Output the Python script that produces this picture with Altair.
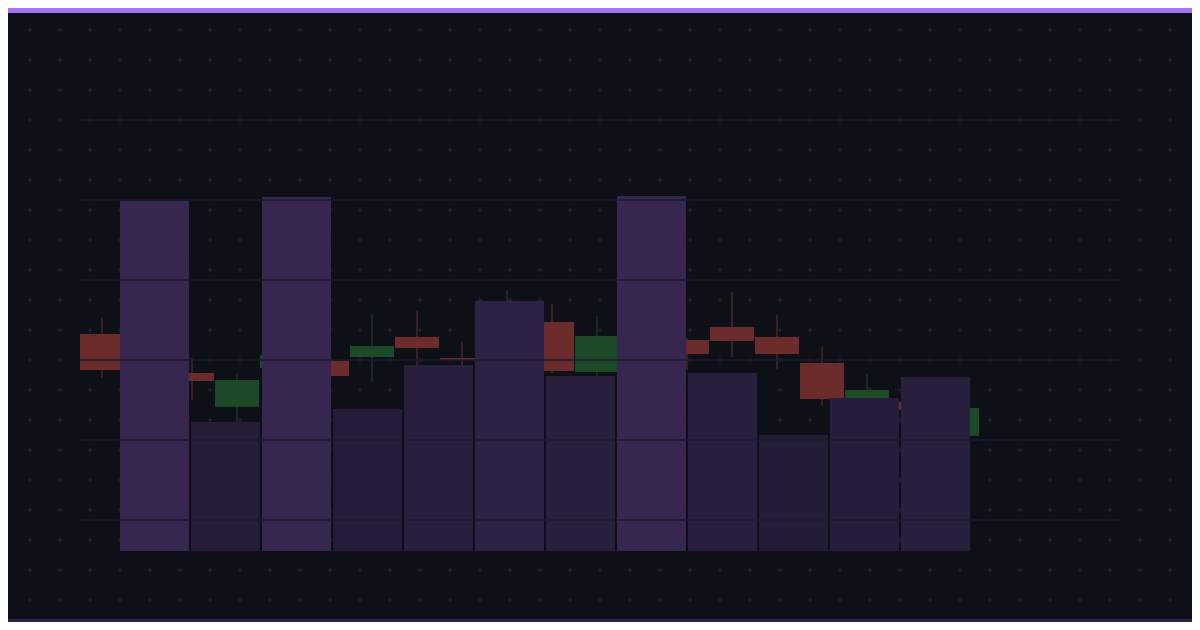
import altair as alt
import pandas as pd

# ---- data ----
candle_idx = list(range(20))
opens  = [116.63, 114.4, 114.19, 112.08, 114.5, 114.94, 115.19, 116.44, 115.13, 116.25,
          117.38, 114.25, 115.9, 116.25, 117.06, 116.44, 114.81, 112.25, 112.38, 110.25]
closes = [114.38, 113.8, 113.69, 113.75, 115.31, 114.0, 115.88, 115.75, 115.0, 118.44,
          114.31, 116.5, 115.4, 115.38, 116.19, 115.38, 112.56, 113.13, 111.88, 112.0]
highs  = [117.63, 115.2, 115.13, 114.19, 115.8, 115.6, 117.88, 118.06, 116.13, 119.38,
          118.5, 117.75, 116.6, 116.38, 119.25, 117.81, 115.81, 114.13, 112.69, 112.4]
lows   = [113.88, 113.6, 112.5, 110.94, 114.0, 113.6, 113.63, 114.5, 114.63, 115.63,
          114.19, 113.75, 115.0, 114.38, 115.19, 114.44, 112.13, 111.88, 111.56, 109.9]

vol_idx = list(range(12))
volumes = [3500, 1290, 3540, 1420, 1860, 2500, 1750, 3550, 1780, 1160, 1530, 1740]

grid_prices = [105, 110, 115, 120, 125, 130]

# ---- styles ----
BG = "#0e1018"
RED = "#6c2c2c"
GREEN = "#1c4a29"
GRID = "#1c1a2b"
PLUS = "#2a2347"

W, H = 1184, 614

candles = pd.DataFrame({"i": candle_idx, "open": opens, "close": closes,
                        "high": highs, "low": lows})
candles["dir"] = ["up" if c >= o else "down" for o, c in zip(opens, closes)]
vols = pd.DataFrame({"k": vol_idx, "volume": volumes})
grid = pd.DataFrame({"p": grid_prices})

xs = alt.Scale(domain=[0, 19], range=[94, 949], nice=False, zero=False)
ys = alt.Scale(domain=[105, 130], range=[512, 112], nice=False, zero=False)
cs = alt.Scale(domain=["up", "down"], range=[GREEN, RED])

# background plus pattern
plus = alt.Chart(alt.sequence(0, 840, as_="n")).transform_calculate(
    px="(datum.n % 40) * 30 - 8",
    py="(floor(datum.n / 40) + 1) * 30 - 8",
).mark_point(shape="M -1 0 L 1 0 M 0 -1 L 0 1", size=25, filled=False,
             stroke=PLUS, strokeWidth=1, opacity=1).encode(
    x=alt.X("px:Q", scale=None, axis=None),
    y=alt.Y("py:Q", scale=None, axis=None),
)

wicks = alt.Chart(candles).mark_rule(strokeWidth=1).encode(
    x=alt.X("i:Q", scale=xs, axis=None),
    y=alt.Y("low:Q", scale=ys, axis=None),
    y2="high:Q",
    color=alt.Color("dir:N", scale=cs, legend=None),
)

bodies = alt.Chart(candles).transform_calculate(
    x0="datum.i - 22/45", x1="datum.i + 22/45"
).mark_rect().encode(
    x=alt.X("x0:Q", scale=xs, axis=None),
    x2="x1:Q",
    y=alt.Y("open:Q", scale=ys, axis=None),
    y2="close:Q",
    color=alt.Color("dir:N", scale=cs, legend=None),
)

bars = alt.Chart(vols).mark_bar().encode(
    x=alt.X("k:O", scale=alt.Scale(range=[112, 962], paddingInner=0.028, paddingOuter=0), axis=None),
    y=alt.Y("volume:Q", scale=alt.Scale(domain=[0, 4000], range=[543, 143], nice=False), axis=None),
    color=alt.Color("volume:Q", scale=alt.Scale(range=["#221c36", "#372650"]), legend=None),
)

gridlines = alt.Chart(grid).mark_rule(color=GRID, strokeWidth=1.5).encode(
    y=alt.Y("p:Q", scale=ys, axis=None),
    x=alt.value(72),
    x2=alt.value(1112),
)

topbar = alt.Chart(grid).mark_rect(color="#a374f5").encode(
    x=alt.value(0), x2=alt.value(W), y=alt.value(0), y2=alt.value(5)
)
bottombar = alt.Chart(grid).mark_rect(color="#2d2547").encode(
    x=alt.value(0), x2=alt.value(W), y=alt.value(H - 3), y2=alt.value(H)
)

chart = alt.layer(
    plus, wicks, bodies, bars, gridlines, topbar, bottombar
).resolve_scale(
    x="independent", y="independent", color="independent"
).properties(
    width=W, height=H,
    autosize=alt.AutoSizeParams(type="none"),
    padding=0,
    background=BG,
).configure_view(stroke=None)

chart.save("out.html", embed_options={"renderer": "svg", "actions": False})
